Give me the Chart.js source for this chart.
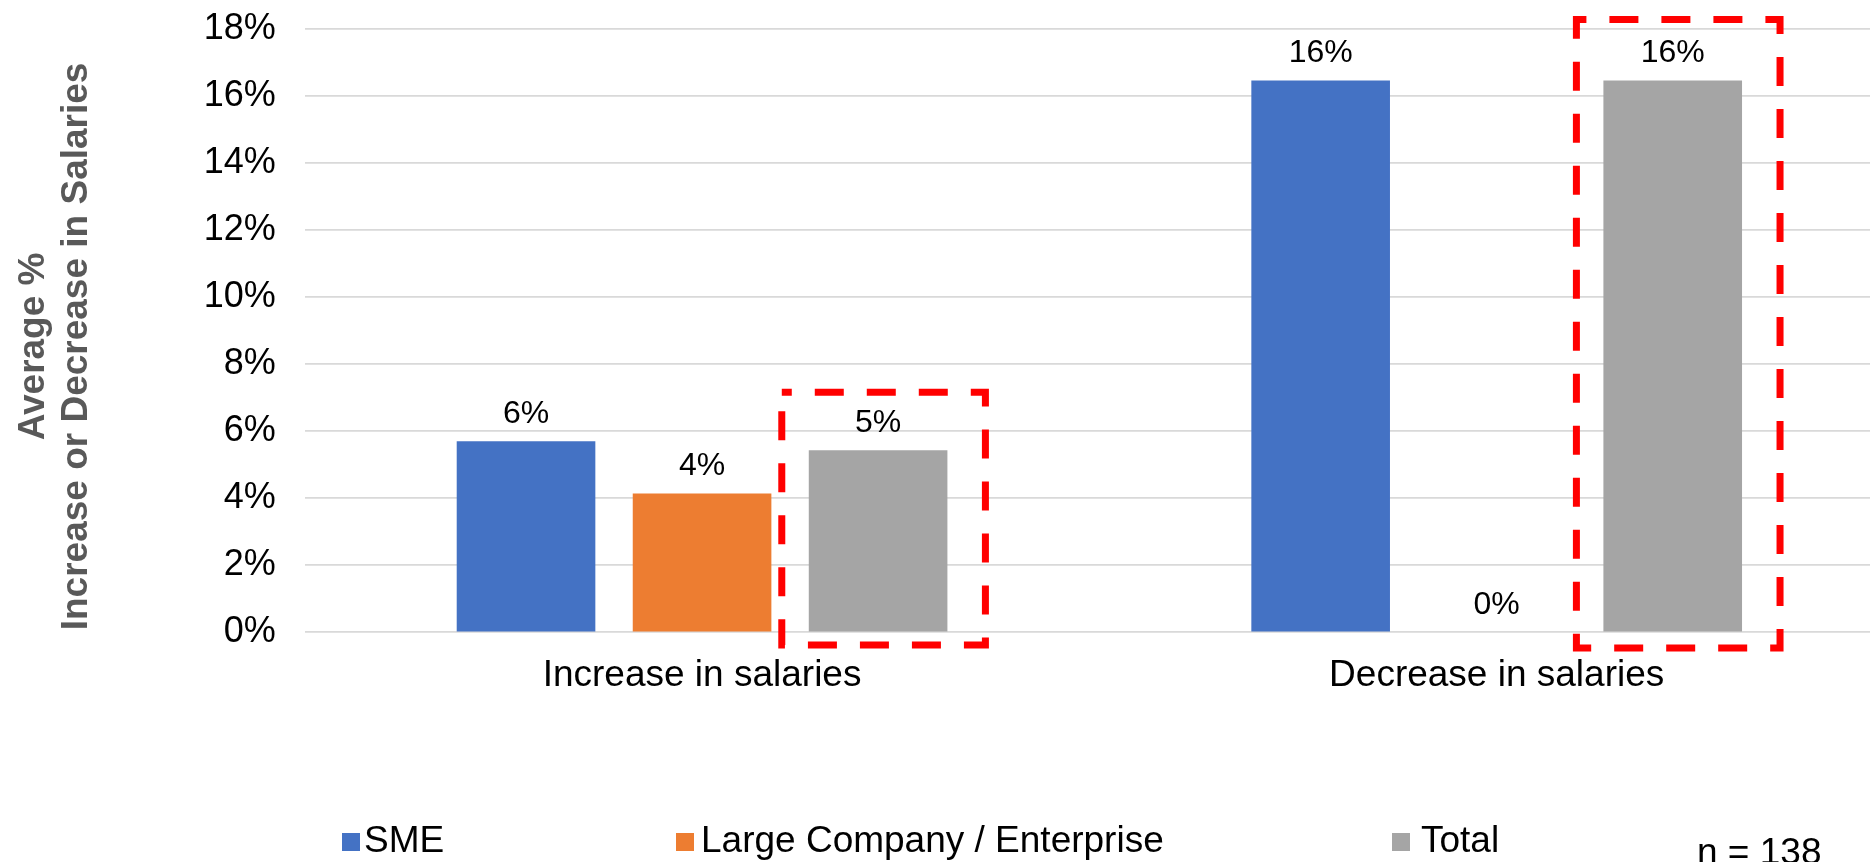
<!DOCTYPE html>
<html>
<head>
<meta charset="utf-8">
<script src="https://cdn.jsdelivr.net/npm/chart.js@4.4.1/dist/chart.umd.min.js"></script>
<style>
  html, body { margin: 0; padding: 0; background: #fff; overflow: hidden; width: 1870px; height: 862px; }
  #wrap { position: relative; width: 1870px; height: 862px; overflow: hidden; }
  #c { position: absolute; left: 0; top: 0; }
  .lg { position: absolute; font-family: "Liberation Sans", Arial, sans-serif; font-size: 37px; line-height: 37px; color: #000; white-space: nowrap; }
  .sq { position: absolute; width: 18px; height: 18px; }
</style>
</head>
<body>
<div id="wrap">
  <canvas id="c" width="1894" height="862" style="width:1894px;height:862px"></canvas>
</div>
<script>
// ---- data ----
const categories = ["Increase in salaries", "Decrease in salaries"];
const seriesNames = ["SME", "Large Company / Enterprise", "Total"];
const smeValues = [5.70, 16.45];
const largeValues = [4.14, 0];
const totalValues = [5.43, 16.45];
const yTicks = [0, 2, 4, 6, 8, 10, 12, 14, 16, 18];
const axisTitleLines = ["Average %", "Increase or Decrease in Salaries"];
const sampleNote = "n = 138";
// highlighted (red dashed) boxes around the Total bars, in value units
const highlightTop = [7.16, 18.27];
const highlightBottom = [-0.38, -0.47];

// ---- styles ----
const colors = ["#4472C4", "#ED7D31", "#A5A5A5"];
const FONT = '"Liberation Sans", Arial, sans-serif';
const SHIFT = 22; // canvas is drawn taller and shifted up so the plot top sits near the page top
const canvas = document.getElementById('c');
canvas.height = 862 + SHIFT;
canvas.style.height = (862 + SHIFT) + 'px';
canvas.style.top = (-SHIFT) + 'px';

const dataLabelsPlugin = {
  id: 'dataLabels',
  afterDatasetsDraw(chart) {
    const ctx = chart.ctx;
    ctx.save();
    ctx.font = '32px ' + FONT;
    ctx.fillStyle = '#000';
    ctx.textAlign = 'center';
    ctx.textBaseline = 'alphabetic';
    chart.data.datasets.forEach((ds, di) => {
      const meta = chart.getDatasetMeta(di);
      meta.data.forEach((el, i) => {
        const v = ds.data[i];
        ctx.fillText(Math.round(v) + '%', el.x, el.y - 18.5);
      });
    });
    ctx.restore();
  }
};

const highlightPlugin = {
  id: 'highlight',
  afterDraw(chart) {
    const ctx = chart.ctx;
    const y = chart.scales.y;
    const meta = chart.getDatasetMeta(2);
    ctx.save();
    ctx.strokeStyle = '#FF0000';
    ctx.lineWidth = 7;
    ctx.setLineDash([29, 23]);
    ctx.lineDashOffset = 19;
    ctx.lineJoin = 'miter';
    meta.data.forEach((el, i) => {
      const l = el.x - el.width / 2 - 27;
      const r = el.x + el.width / 2 + 38;
      const t = y.getPixelForValue(highlightTop[i]);
      const b = y.getPixelForValue(highlightBottom[i]);
      ctx.beginPath();
      ctx.moveTo(l, t);
      ctx.lineTo(r, t);
      ctx.lineTo(r, b);
      ctx.lineTo(l, b);
      ctx.closePath();
      ctx.stroke();
    });
    ctx.restore();
  }
};

const axisTitlePlugin = {
  id: 'axisTitle',
  afterDraw(chart) {
    const ctx = chart.ctx;
    const a = chart.chartArea;
    ctx.save();
    ctx.font = 'bold 37px ' + FONT;
    ctx.fillStyle = '#595959';
    ctx.textAlign = 'center';
    ctx.textBaseline = 'middle';
    const xs = [33.3, 76.3];
    const cy = (a.top + a.bottom) / 2 + 16;
    axisTitleLines.forEach((line, i) => {
      ctx.save();
      ctx.translate(xs[i], cy);
      ctx.rotate(-Math.PI / 2);
      ctx.fillText(line, 0, 0);
      ctx.restore();
    });
    ctx.restore();
  }
};

const datasetValues = [smeValues, largeValues, totalValues];
const chart = new Chart(canvas, {
  type: 'bar',
  data: {
    labels: categories,
    datasets: seriesNames.map((n, i) => ({
      label: n,
      data: datasetValues[i],
      backgroundColor: colors[i],
      borderWidth: 0,
      categoryPercentage: 0.6646,
      barPercentage: 0.7875
    }))
  },
  options: {
    responsive: false,
    animation: false,
    devicePixelRatio: 1,
    layout: { padding: { top: 1.7, left: 0, right: 0, bottom: 0 } },
    plugins: { legend: { display: false }, tooltip: { enabled: false } },
    scales: {
      x: {
        grid: { display: false, drawTicks: false },
        border: { display: false },
        ticks: { color: '#000', font: { family: FONT, size: 37 }, padding: 21 },
        afterFit(s) { s.height = 862 - 632.3; }
      },
      y: {
        min: 0, max: 18,
        afterBuildTicks(s) { s.ticks = yTicks.map(v => ({ value: v })); },
        grid: { color: '#d9d9d9', lineWidth: 1.8, drawTicks: false },
        border: { display: false },
        ticks: { color: '#000', font: { family: FONT, size: 36 }, padding: 29, callback: v => v + '%' },
        afterFit(s) { s.width = 304.75; }
      }
    }
  },
  plugins: [dataLabelsPlugin, highlightPlugin, axisTitlePlugin]
});

// ---- legend (HTML) ----
const wrap = document.getElementById('wrap');
const legendSquareX = [342, 676, 1392];
const legendTextX = [364, 701, 1421];
seriesNames.forEach((n, i) => {
  const sq = document.createElement('div');
  sq.className = 'sq';
  sq.style.left = legendSquareX[i] + 'px';
  sq.style.top = '833px';
  sq.style.background = colors[i];
  wrap.appendChild(sq);
  const t = document.createElement('div');
  t.className = 'lg';
  t.style.left = legendTextX[i] + 'px';
  t.style.top = '821.4px';
  t.textContent = n;
  wrap.appendChild(t);
});
const note = document.createElement('div');
note.className = 'lg';
note.style.left = '1697px';
note.style.top = '833px';
note.textContent = sampleNote;
wrap.appendChild(note);
</script>
</body>
</html>
